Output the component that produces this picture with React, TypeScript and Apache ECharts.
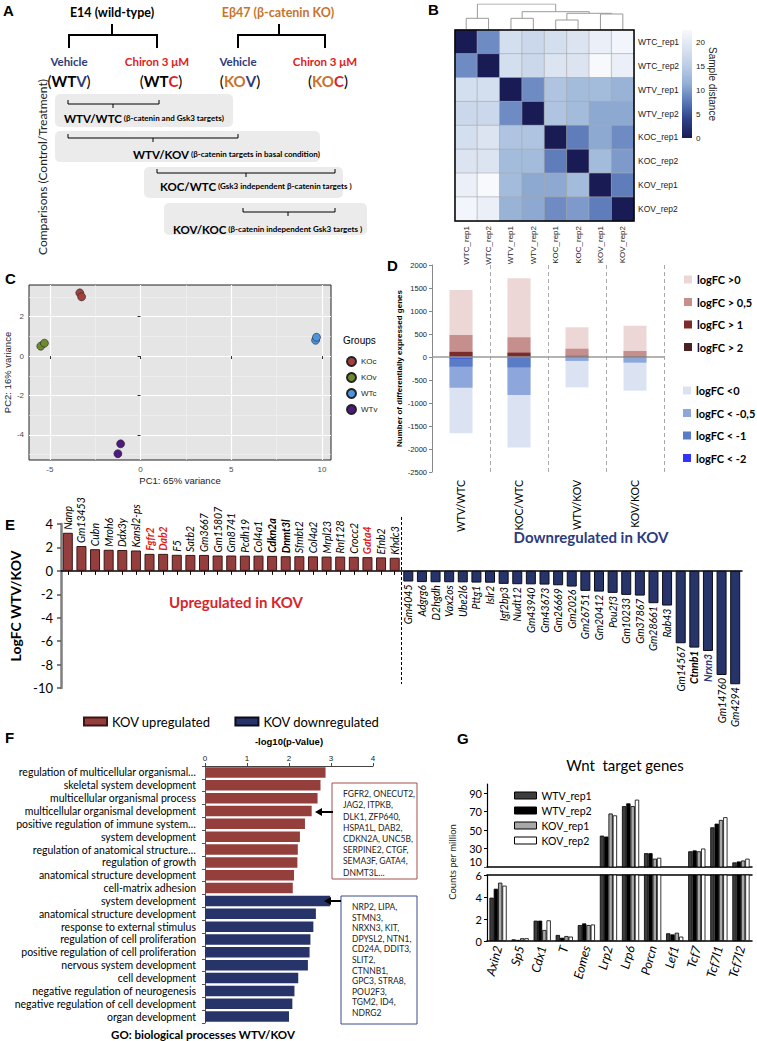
import React, { useEffect, useRef } from 'react';
import * as echarts from 'echarts';

const CAL = 'Lato, "Open Sans", sans-serif';
const ARI = '"Liberation Sans", Arial, sans-serif';

// ---------- Panel B: sample distances ----------
const sampleNames = ['WTC_rep1', 'WTC_rep2', 'WTV_rep1', 'WTV_rep2', 'KOC_rep1', 'KOC_rep2', 'KOV_rep1', 'KOV_rep2'];
const distWTC1 = [0, 9, 18, 17, 18, 19, 21, 22];
const distWTC2 = [9, 0, 18, 17, 19, 19, 23, 21];
const distWTV1 = [18, 18, 0, 9, 14, 13, 13, 12];
const distWTV2 = [17, 17, 9, 0, 14, 13, 11, 11];
const distKOC1 = [18, 19, 14, 14, 0, 8, 11, 9];
const distKOC2 = [19, 19, 13, 13, 8, 0, 13, 10];
const distKOV1 = [21, 23, 13, 11, 11, 13, 0, 8];
const distKOV2 = [22, 21, 12, 11, 9, 10, 8, 0];
const distanceRows = [distWTC1, distWTC2, distWTV1, distWTV2, distKOC1, distKOC2, distKOV1, distKOV2];
// merges: [nodeA, nodeB, height]  (leaves 0..7, merged nodes 8..)
const dendroMerges = [[0, 1, 11.7], [2, 3, 11.7], [4, 5, 10], [6, 7, 16], [10, 11, 16.7], [9, 12, 18.3], [8, 13, 26]];
const distanceTicks = [0, 5, 10, 15, 20];
const distanceMax = 22.7;

// ---------- Panel C: PCA ----------
const pcaGroups = ['KOc', 'KOv', 'WTc', 'WTv'];
const pcaKOc = [[-3.35, 3.2], [-3.25, 3.0]];
const pcaKOv = [[-5.5, 0.5], [-5.3, 0.65]];
const pcaWTc = [[9.65, 0.8], [9.7, 0.95]];
const pcaWTv = [[-1.25, -4.95], [-1.1, -4.45]];
const pcaXTicks = [-5, 0, 5, 10];
const pcaXMinor = [-2.5, 2.5, 7.5];
const pcaYTicks = [-4, -2, 0, 2];
const pcaYMinor = [-5, -3, -1, 1, 3];

// ---------- Panel D: DEG counts ----------
const comparisons = ['WTV/WTC', 'KOC/WTC', 'WTV/KOV', 'KOV/KOC'];
const degUp0 = [1455, 1710, 645, 680];
const degUp05 = [478, 428, 180, 130];
const degUp1 = [112, 95, 25, 15];
const degUp2 = [20, 15, 8, 4];
const degDown0 = [-1655, -1965, -660, -732];
const degDown05 = [-668, -826, -85, -123];
const degDown1 = [-210, -225, -15, -20];
const degDown2 = [-30, -22, -4, -4];
const degLabels = ['logFC >0', 'logFC > 0,5', 'logFC > 1', 'logFC > 2', 'logFC <0', 'logFC < -0,5', 'logFC < -1', 'logFC < -2'];

// ---------- Panel E: logFC WTV/KOV ----------
const upGenes = ['Nanp', 'Gm13453', 'Cubn', 'Mroh6', 'Ddx3y', 'Kansl2-ps', 'Fgfr2', 'Dab2', 'F5', 'Satb2', 'Gm3667', 'Gm15807', 'Gm8741', 'Pcdh19', 'Col4a1', 'Cdkn2a', 'Dnmt3l', 'Sfmbt2', 'Col4a2', 'Mrpl23', 'Rnf128', 'Crocc2', 'Gata4', 'Efnb2', 'Khdc3'];
const upLogFC = [3.25, 2.12, 1.85, 1.8, 1.78, 1.74, 1.45, 1.45, 1.37, 1.36, 1.36, 1.31, 1.31, 1.3, 1.3, 1.28, 1.25, 1.25, 1.24, 1.22, 1.22, 1.2, 1.17, 1.15, 1.12];
const downGenes = ['Gm4045', 'Adgrg6', 'D2hgdh', 'Vax2os', 'Ube2l6', 'Pttg1', 'Islr2', 'Igf2bp3', 'Nudt12', 'Gm43940', 'Gm43673', 'Gm26669', 'Gm2026', 'Gm26751', 'Gm20412', 'Pou2f3', 'Gm10233', 'Gm37867', 'Gm28661', 'Rab43', 'Gm14567', 'Ctnnb1', 'Nrxn3', 'Gm14760', 'Gm4294'];
const downLogFC = [-0.91, -0.96, -0.97, -0.97, -0.98, -1.0, -1.01, -1.11, -1.14, -1.15, -1.17, -1.23, -1.34, -1.71, -1.77, -1.88, -2.05, -2.11, -2.76, -2.96, -6.18, -6.55, -6.84, -8.89, -9.68];
const redGenes = ['Fgfr2', 'Dab2', 'Gata4'];
const boldGenes = ['Cdkn2a', 'Dnmt3l', 'Ctnnb1'];
const navyGenes = ['Nrxn3'];

// ---------- Panel F: GO terms ----------
const goUpTerms = ['regulation of multicellular organismal…', 'skeletal system development', 'multicellular organismal process', 'multicellular organismal development', 'positive regulation of immune system…', 'system development', 'regulation of anatomical structure…', 'regulation of growth', 'anatomical structure development', 'cell-matrix adhesion'];
const goUpP = [2.87, 2.75, 2.68, 2.54, 2.38, 2.26, 2.21, 2.2, 2.12, 2.09];
const goDownTerms = ['system development', 'anatomical structure development', 'response to external stimulus', 'regulation of cell proliferation', 'positive regulation of cell proliferation', 'nervous system development', 'cell development', 'negative regulation of neurogenesis', 'negative regulation of cell development', 'organ development'];
const goDownP = [2.98, 2.64, 2.58, 2.51, 2.49, 2.45, 2.22, 2.13, 2.08, 2.0];
const goUpGenes = ['FGFR2, ONECUT2,', 'JAG2, ITPKB,', 'DLK1, ZFP640,', 'HSPA1L, DAB2,', 'CDKN2A, UNC5B,', 'SERPINE2, CTGF,', 'SEMA3F, GATA4,', 'DNMT3L…'];
const goDownGenes = ['NRP2, LIPA,', 'STMN3,', 'NRXN3, KIT,', 'DPYSL2, NTN1,', 'CD24A, DDIT3,', 'SLIT2,', 'CTNNB1,', 'GPC3, STRA8,', 'POU2F3,', 'TGM2, ID4,', 'NDRG2'];

// ---------- Panel G: Wnt target genes ----------
const wntGenes = ['Axin2', 'Sp5', 'Cdx1', 'T', 'Eomes', 'Lrp2', 'Lrp6', 'Porcn', 'Lef1', 'Tcf7', 'Tcf7l1', 'Tcf7l2'];
const wtvRep1 = [3.94, 0.15, 1.85, 0.55, 1.45, 44, 76, 25, 0.7, 27, 53, 15];
const wtvRep2 = [4.75, 0.1, 1.85, 0.3, 1.6, 43, 79, 25, 0.6, 28, 57, 16];
const kovRep1 = [5.3, 0.25, 1.0, 0.45, 1.45, 68, 76, 19, 0.75, 27, 61, 17];
const kovRep2 = [5.03, 0.25, 1.88, 0.4, 1.5, 66, 83, 20, 0.4, 30, 64, 19];
const wntUpperTicks = [30, 50, 70, 90];
const wntBreakTick = [10];

// ---------- helpers ----------
function txt(text: string, x: number, y: number, o: any = {}) {
  const align = o.align || 'center';
  const va = o.va || 'middle';
  return {
    type: 'text', x, y, rotation: o.rotation || 0, z: 50,
    style: {
      text, fill: o.fill || '#000', fontSize: o.size || 12, fontWeight: o.weight || 'normal',
      fontStyle: o.style || 'normal', fontFamily: o.family || CAL,
      align, verticalAlign: va, textAlign: align, textVerticalAlign: va,
      lineHeight: o.lineHeight, rich: o.rich,
    },
  };
}
function pline(points: number[][], color = '#000', width = 1) {
  return { type: 'polyline', z: 50, shape: { points }, style: { stroke: color, lineWidth: width, fill: 'none' } };
}

function buildOption() {
  const navy = '#2e3a7c';
  const red = '#e0201b';
  const orange = '#c8722d';
  const graphic: any[] = [];

  // panel letters
  [['A', 3, 10], ['B', 428, 9], ['C', 5, 278], ['D', 387, 265], ['E', 5, 524], ['F', 5, 737], ['G', 457, 738]].forEach(([l, x, y]: any) =>
    graphic.push(txt(l, x, y, { align: 'left', size: 15, weight: 'bold', family: ARI })));

  // ---- Panel A diagram ----
  graphic.push(txt('E14 (wild-type)', 112, 12, { size: 12.5, weight: 'bold' }));
  graphic.push(txt('Eβ47 (β-catenin KO)', 278, 12, { size: 12.5, weight: 'bold', fill: orange }));
  graphic.push(pline([[69, 48], [69, 35], [157, 35], [157, 48]], '#000', 2));
  graphic.push(pline([[112, 24], [112, 35]], '#000', 2));
  graphic.push(pline([[238, 48], [238, 35], [325, 35], [325, 48]], '#000', 2));
  graphic.push(pline([[279, 24], [279, 35]], '#000', 2));
  graphic.push(txt('Vehicle', 69, 61, { size: 11.5, weight: 'bold', fill: navy }));
  graphic.push(txt('Chiron 3 μM', 157, 61, { size: 11.5, weight: 'bold', fill: red }));
  graphic.push(txt('Vehicle', 238, 61, { size: 11.5, weight: 'bold', fill: navy }));
  graphic.push(txt('Chiron 3 μM', 325, 61, { size: 11.5, weight: 'bold', fill: red }));
  const richA = {
    p: { fontSize: 15, fontFamily: CAL, fill: '#000', color: '#000' },
    k: { fontSize: 15, fontFamily: CAL, fontWeight: 'bold', fill: '#000', color: '#000' },
    o: { fontSize: 15, fontFamily: CAL, fontWeight: 'bold', fill: orange, color: orange },
    v: { fontSize: 15, fontFamily: CAL, fontWeight: 'bold', fill: navy, color: navy },
    c: { fontSize: 15, fontFamily: CAL, fontWeight: 'bold', fill: red, color: red },
  };
  graphic.push(txt('{p|(}{k|WT}{v|V}{p|)}', 69, 81, { rich: richA }));
  graphic.push(txt('{p|(}{k|WT}{c|C}{p|)}', 161, 81, { rich: richA }));
  graphic.push(txt('{p|(}{o|KO}{v|V}{p|)}', 240, 81, { rich: richA }));
  graphic.push(txt('{p|(}{o|KO}{c|C}{p|)}', 328, 81, { rich: richA }));
  const boxes = [
    { x: 55, y: 94, w: 178, h: 33, b: [68, 159, 104, 113], tx: 64, ty: 118, a: 'WTV/WTC', s: ' (β-catenin and Gsk3 targets)' },
    { x: 55, y: 131, w: 265, h: 31, b: [68, 238, 138, 153], tx: 133, ty: 154, a: 'WTV/KOV', s: ' (β-catenin targets in basal condition)' },
    { x: 144, y: 167, w: 199, h: 31, b: [157, 335, 173, 246], tx: 160, ty: 186, a: 'KOC/WTC', s: ' (Gsk3 independent β-catenin targets )' },
    { x: 164, y: 203, w: 203, h: 32, b: [243, 335, 212, 288], tx: 173, ty: 229, a: 'KOV/KOC', s: ' (β-catenin independent Gsk3 targets )' },
  ];
  const richBox = {
    a: { fontSize: 11.5, fontWeight: 'bold', fontFamily: CAL, fill: '#000', color: '#000' },
    s: { fontSize: 8, fontWeight: 'bold', fontFamily: CAL, fill: '#000', color: '#000' },
  };
  boxes.forEach((bx) => {
    graphic.push({ type: 'rect', z: 40, shape: { x: bx.x, y: bx.y, width: bx.w, height: bx.h, r: 5 }, style: { fill: '#ebebeb' } });
    const [x1, x2, y, cx] = bx.b;
    graphic.push(pline([[x1, y - 4], [x1, y], [x2, y], [x2, y - 4]], '#000', 1));
    graphic.push(pline([[cx, y], [cx, y + 4]], '#000', 1));
    graphic.push(txt(`{a|${bx.a}}{s|${bx.s}}`, bx.tx, bx.ty, { align: 'left', rich: richBox }));
  });
  graphic.push(txt('Comparisons (Control/Treatment)', 42, 167, { size: 12, rotation: Math.PI / 2, fill: '#222' }));

  // ---- Panel B extras ----
  const hmColors = ['#191c54', '#2d3f86', '#5877b8', '#92aed4', '#bccde6', '#dbe3f1', '#f7f9fd'];
  graphic.push({
    type: 'rect', z: 40, shape: { x: 682, y: 30, width: 10, height: 108 },
    style: {
      fill: {
        type: 'linear', x: 0, y: 0, x2: 0, y2: 1,
        colorStops: hmColors.slice().reverse().map((c, i) => ({ offset: i / (hmColors.length - 1), color: c })),
      },
    },
  });
  graphic.push({ type: 'rect', z: 100, shape: { x: 455, y: 30, width: 179, height: 191 }, style: { fill: 'none', stroke: '#000', lineWidth: 1.5 } });
  graphic.push(txt('Sample distance', 712, 84, { size: 10, family: ARI, rotation: -Math.PI / 2, fill: '#222' }));

  // ---- Panel C extras ----
  graphic.push(txt('Groups', 343, 340, { align: 'left', size: 10, family: ARI }));

  // ---- Panel E extras ----
  const eLeft = 61, eWidth = 681;
  const sepX = eLeft + eWidth * (upGenes.length / (upGenes.length + downGenes.length));
  graphic.push({ type: 'line', z: 50, shape: { x1: sepX, y1: 517, x2: sepX, y2: 684 }, style: { stroke: '#000', lineWidth: 1, lineDash: [3, 2] } });
  graphic.push(txt('Upregulated in KOV', 236, 602, { size: 15, weight: 'bold', fill: '#d7252a' }));
  graphic.push(txt('Downregulated in KOV', 591, 537, { size: 15, weight: 'bold', fill: '#2b3c7e' }));

  // ---- Panel F extras ----
  graphic.push({ type: 'rect', z: 40, shape: { x: 332, y: 783, width: 85, height: 96 }, style: { fill: '#fff', stroke: '#a0504d', lineWidth: 1 } });
  graphic.push(txt(goUpGenes.join('\n'), 343, 788.5, { align: 'left', size: 8.5, lineHeight: 11.2, va: 'top', fill: '#222' }));
  graphic.push({ type: 'rect', z: 40, shape: { x: 341, y: 896, width: 76, height: 128 }, style: { fill: '#fff', stroke: '#3b4a8a', lineWidth: 1 } });
  graphic.push(txt(goDownGenes.join('\n'), 352, 901.7, { align: 'left', size: 8.5, lineHeight: 10.6, va: 'top', fill: '#222' }));
  graphic.push(pline([[333, 812], [321, 812]], '#000', 2));
  graphic.push({ type: 'polygon', z: 50, shape: { points: [[315, 812], [322, 808], [322, 816]] }, style: { fill: '#000' } });
  graphic.push(pline([[341, 901], [330, 901]], '#000', 2));
  graphic.push({ type: 'polygon', z: 50, shape: { points: [[324, 901], [331, 897], [331, 905]] }, style: { fill: '#000' } });
  graphic.push(txt('GO: biological processes WTV/KOV', 203, 1034, { size: 11.5, weight: 'bold' }));

  // ---- Panel G extras ----
  graphic.push(txt('Wnt  target genes', 625, 765, { size: 15 }));
  graphic.push(txt('Counts per million', 452, 862, { size: 9.5, rotation: Math.PI / 2, fill: '#222' }));

  // ---------- data prep ----------
  const hmData: any[] = [];
  distanceRows.forEach((row, r) => row.forEach((v, c) => hmData.push([c, r, v])));

  const nodeX: number[] = sampleNames.map((_, i) => i);
  const nodeH: number[] = sampleNames.map(() => 0);
  const dendroData: any[] = [];
  dendroMerges.forEach(([a, b, h]) => {
    dendroData.push({ coords: [[nodeX[a], nodeH[a]], [nodeX[a], h], [nodeX[b], h], [nodeX[b], nodeH[b]]] });
    nodeX.push((nodeX[a] + nodeX[b]) / 2);
    nodeH.push(h);
  });

  const pcaSets = [
    { name: 'KOc', data: pcaKOc, color: '#a3403d' },
    { name: 'KOv', data: pcaKOv, color: '#6e8a2e' },
    { name: 'WTc', data: pcaWTc, color: '#4d94e0' },
    { name: 'WTv', data: pcaWTv, color: '#4d1a7f' },
  ];

  const degSets = [
    { data: degUp0, color: '#ecd6d6' }, { data: degUp05, color: '#c48f8d' }, { data: degUp1, color: '#7b2b2b' }, { data: degUp2, color: '#4a2020' },
    { data: degDown0, color: '#dbe2f1' }, { data: degDown05, color: '#8da7dd' }, { data: degDown1, color: '#5a7bc6' }, { data: degDown2, color: '#3333ff' },
  ];

  const allGenes = [...upGenes, ...downGenes];
  const geneLabel = (g: string) => {
    if (redGenes.includes(g)) return { color: red, fontWeight: 'bold' };
    if (navyGenes.includes(g)) return { color: navy, fontWeight: 'bold' };
    if (boldGenes.includes(g)) return { fontWeight: 'bold' };
    return {};
  };
  const eUp = allGenes.map((g, i) => (i < upGenes.length ? { value: upLogFC[i], label: geneLabel(g) } : '-'));
  const eDown = allGenes.map((g, i) => (i >= upGenes.length ? { value: downLogFC[i - upGenes.length], label: geneLabel(g) } : '-'));

  const goTerms = [...goUpTerms, ...goDownTerms];
  const goIdx = goTerms.map((_, i) => String(i));
  const fUp = goTerms.map((_, i) => (i < goUpTerms.length ? goUpP[i] : '-'));
  const fDown = goTerms.map((_, i) => (i >= goUpTerms.length ? goDownP[i - goUpTerms.length] : '-'));

  const wntSets = [
    { name: 'WTV_rep1', data: wtvRep1, color: '#3d3d3d' },
    { name: 'WTV_rep2', data: wtvRep2, color: '#000000' },
    { name: 'KOV_rep1', data: kovRep1, color: '#a8a8a8' },
    { name: 'KOV_rep2', data: kovRep2, color: '#ffffff' },
  ];

  const hiddenAxis = { show: false };

  const option: any = {
    animation: false,
    backgroundColor: '#fff',
    textStyle: { fontFamily: CAL },
    graphic: { elements: graphic },
    visualMap: [{
      show: false, type: 'continuous', min: 0, max: distanceMax, seriesIndex: 0, inRange: { color: hmColors },
    }],
    legend: [
      { // C
        data: pcaGroups, left: 341, top: 351, orient: 'vertical', icon: 'circle', itemWidth: 9, itemHeight: 9, itemGap: 5,
        textStyle: { fontSize: 8, fontFamily: ARI, color: '#222' },
      },
      { // D positive
        data: degLabels.slice(0, 4), left: 679, top: 269, orient: 'vertical', icon: 'rect', itemWidth: 8, itemHeight: 8, itemGap: 11.5,
        textStyle: { fontSize: 11, fontWeight: 'bold', fontFamily: CAL, color: '#000' },
      },
      { // D negative
        data: degLabels.slice(4), left: 678, top: 380, orient: 'vertical', icon: 'rect', itemWidth: 8, itemHeight: 8, itemGap: 11.5,
        textStyle: { fontSize: 11, fontWeight: 'bold', fontFamily: CAL, color: '#000' },
      },
      { // E
        data: ['KOV upregulated', 'KOV downregulated'], left: 78, top: 710, orient: 'horizontal', icon: 'rect', itemWidth: 23, itemHeight: 8, itemGap: 24,
        textStyle: { fontSize: 13, fontFamily: CAL, color: '#000' },
      },
      { // G
        data: wntSets.map((s) => s.name), left: 509, top: 785, orient: 'vertical', icon: 'rect', itemWidth: 22, itemHeight: 7, itemGap: 4,
        textStyle: { fontSize: 10.5, fontFamily: CAL, color: '#000' }, itemStyle: { borderColor: '#000', borderWidth: 1 },
      },
    ],
    grid: [
      { left: 455, top: 30, width: 179, height: 191 }, // 0 heatmap
      { left: 455, top: 4, width: 179, height: 26 }, // 1 dendrogram
      { left: 29, top: 285, width: 302, height: 175, show: true, backgroundColor: '#e5e5e5', borderColor: '#222', borderWidth: 1 }, // 2 PCA
      { left: 432, top: 265, width: 232, height: 207 }, // 3 D
      { left: eLeft, top: 524, width: eWidth, height: 164 }, // 4 E
      { left: 205, top: 766, width: 168, height: 257 }, // 5 F
      { left: 487, top: 784, width: 265, height: 83 }, // 6 G upper
      { left: 487, top: 875, width: 265, height: 66 }, // 7 G lower
      { left: 682, top: 30, width: 10, height: 108 }, // 8 colorbar
    ],
    xAxis: [
      { // 0
        gridIndex: 0, type: 'category', data: sampleNames, position: 'bottom',
        axisLine: { show: false }, axisTick: { show: false },
        axisLabel: { rotate: 90, fontSize: 8, fontFamily: ARI, color: '#222', margin: 5, interval: 0 },
      },
      { gridIndex: 1, type: 'value', min: -0.5, max: 7.5, ...hiddenAxis }, // 1
      { // 2 PCA main
        gridIndex: 2, type: 'value', min: -6.15, max: 10.5,
        axisLine: { show: false },
        axisTick: { show: true, customValues: pcaXTicks, length: 3, lineStyle: { color: '#333' } },
        axisLabel: { customValues: pcaXTicks, fontSize: 8, fontFamily: ARI, color: '#4d4d4d', margin: 5 },
        splitLine: { show: true, lineStyle: { color: '#ffffff', width: 1.2 } },
        name: 'PC1: 65% variance', nameLocation: 'middle', nameGap: 15, nameTextStyle: { fontSize: 9.5, fontFamily: ARI, color: '#222' },
      },
      { // 3 PCA minor
        gridIndex: 2, type: 'value', min: -6.15, max: 10.5,
        axisLine: { show: false }, axisLabel: { show: false, customValues: pcaXMinor },
        axisTick: { show: false, customValues: pcaXMinor },
        splitLine: { show: true, lineStyle: { color: '#f2f2f2', width: 0.6 } },
      },
      { // 4 D
        gridIndex: 3, type: 'category', data: comparisons, position: 'bottom',
        axisLine: { show: false }, axisTick: { show: false },
        axisLabel: { rotate: 90, fontSize: 10.5, fontFamily: CAL, color: '#000', margin: 8, interval: 0 },
        splitLine: { show: true, interval: 0, lineStyle: { color: '#aaa', type: [4, 3], width: 1 } },
      },
      { // 5 E
        gridIndex: 4, type: 'category', data: allGenes,
        axisLine: { onZero: true, lineStyle: { color: '#000', width: 1.5 } },
        axisTick: { show: true, alignWithLabel: true, length: 4, interval: 0, lineStyle: { color: '#000' } },
        axisLabel: { show: false },
      },
      { // 6 F
        gridIndex: 5, type: 'value', position: 'top', min: 0, max: 4, interval: 1,
        axisLine: { show: true, lineStyle: { color: '#444' } },
        axisTick: { show: true, length: 3, inside: false },
        axisLabel: { fontSize: 8, fontFamily: ARI, color: '#222', margin: 4 },
        splitLine: { show: false },
        name: '-log10(p-Value)', nameLocation: 'middle', nameGap: 20, nameTextStyle: { fontSize: 9.5, fontWeight: 'bold', fontFamily: ARI, color: '#000' },
      },
      { // 7 G upper
        gridIndex: 6, type: 'category', data: wntGenes,
        axisLine: { show: true, onZero: false, lineStyle: { color: '#000', width: 1.5 } },
        axisTick: { show: false }, axisLabel: { show: false },
      },
      { // 8 G lower bottom
        gridIndex: 7, type: 'category', data: wntGenes, position: 'bottom',
        axisLine: { show: true, onZero: false, lineStyle: { color: '#000', width: 1.5 } },
        axisTick: { show: false },
        axisLabel: { rotate: 75, fontSize: 12.5, fontStyle: 'italic', fontFamily: CAL, color: '#000', margin: 5, interval: 0 },
      },
      { // 9 G lower top line
        gridIndex: 7, type: 'category', data: wntGenes, position: 'top',
        axisLine: { show: true, onZero: false, lineStyle: { color: '#000', width: 1.5 } },
        axisTick: { show: false }, axisLabel: { show: false },
      },
      { gridIndex: 8, type: 'value', min: 0, max: 1, ...hiddenAxis }, // 10 colorbar
    ],
    yAxis: [
      { // 0
        gridIndex: 0, type: 'category', data: sampleNames, inverse: true, position: 'right',
        axisLine: { show: false }, axisTick: { show: false },
        axisLabel: { fontSize: 8.5, fontFamily: ARI, color: '#222', margin: 4 },
      },
      { gridIndex: 1, type: 'value', min: 0, max: 26, ...hiddenAxis }, // 1
      { // 2 PCA main
        gridIndex: 2, type: 'value', min: -5.27, max: 3.6,
        axisLine: { show: false },
        axisTick: { show: true, customValues: pcaYTicks, length: 3, lineStyle: { color: '#333' } },
        axisLabel: { customValues: pcaYTicks, fontSize: 8, fontFamily: ARI, color: '#4d4d4d', margin: 5 },
        splitLine: { show: true, lineStyle: { color: '#ffffff', width: 1.2 } },
        name: 'PC2: 16% variance', nameLocation: 'middle', nameGap: 17, nameTextStyle: { fontSize: 9.5, fontFamily: ARI, color: '#222' },
      },
      { // 3 PCA minor
        gridIndex: 2, type: 'value', min: -5.27, max: 3.6,
        axisLine: { show: false }, axisLabel: { show: false, customValues: pcaYMinor },
        axisTick: { show: false, customValues: pcaYMinor },
        splitLine: { show: true, lineStyle: { color: '#f2f2f2', width: 0.6 } },
      },
      { // 4 D
        gridIndex: 3, type: 'value', min: -2500, max: 2000, interval: 500,
        axisLine: { show: true, lineStyle: { color: '#888' } },
        axisTick: { show: true, length: 3, lineStyle: { color: '#888' } },
        axisLabel: { fontSize: 7.5, fontFamily: ARI, color: '#222', margin: 5, formatter: (v: number) => String(v) },
        splitLine: { show: false },
        name: 'Number of differentially expressed genes', nameLocation: 'middle', nameGap: 29,
        nameTextStyle: { fontSize: 8, fontWeight: 'bold', fontFamily: ARI, color: '#000' },
      },
      { // 5 E
        gridIndex: 4, type: 'value', min: -10, max: 4, interval: 2,
        axisLine: { show: true, lineStyle: { color: '#7f7f7f', width: 2.5 } },
        axisTick: { show: true, length: 4, lineStyle: { color: '#555', width: 1.5 } },
        axisLabel: { fontSize: 13, fontFamily: CAL, color: '#000', margin: 8 },
        splitLine: { show: false },
        name: 'LogFC WTV/KOV', nameLocation: 'middle', nameGap: 32,
        nameTextStyle: { fontSize: 14, fontWeight: 'bold', fontFamily: CAL, color: '#000' },
      },
      { // 6 F
        gridIndex: 5, type: 'category', data: goIdx, inverse: true,
        axisLine: { show: true, lineStyle: { color: '#555' } },
        axisTick: { show: true, length: 3, interval: 0 },
        axisLabel: { interval: 0, fontSize: 10.5, fontFamily: CAL, color: '#000', margin: 9, formatter: (v: string) => goTerms[Number(v)] },
      },
      { // 7 G upper
        gridIndex: 6, type: 'value', min: 10, max: 100, position: 'left',
        axisLine: { show: true, lineStyle: { color: '#000', width: 1.2 } },
        axisTick: { show: true, customValues: wntUpperTicks, length: 3 },
        axisLabel: { customValues: wntUpperTicks, fontSize: 11, lineHeight: 11, fontFamily: CAL, color: '#000', margin: 5 },
        splitLine: { show: false },
      },
      { // 8 G lower
        gridIndex: 7, type: 'value', min: 0, max: 6, interval: 2, position: 'left',
        axisLine: { show: true, lineStyle: { color: '#000', width: 1.2 } },
        axisTick: { show: true, length: 3 },
        axisLabel: { fontSize: 11, lineHeight: 11, fontFamily: CAL, color: '#000', margin: 5 },
        splitLine: { show: false },
      },
      { // 9 colorbar
        gridIndex: 8, type: 'value', min: 0, max: distanceMax, position: 'right',
        axisLine: { show: false }, axisTick: { show: false, customValues: distanceTicks },
        axisLabel: { customValues: distanceTicks, fontSize: 8, fontFamily: ARI, color: '#222', margin: 4 },
        splitLine: { show: false },
      },
      { // 10 G upper: break value label (10), lifted above the break
        gridIndex: 6, type: 'value', min: 10, max: 100, position: 'left', offset: 0,
        axisLine: { show: false },
        axisTick: { show: true, customValues: wntBreakTick, length: 3 },
        axisLabel: { customValues: wntBreakTick, fontSize: 11, lineHeight: 11, fontFamily: CAL, color: '#000', margin: 5, verticalAlign: 'bottom' },
        splitLine: { show: false },
      },
    ],
    series: [
      {
        type: 'heatmap', xAxisIndex: 0, yAxisIndex: 0, data: hmData,
        itemStyle: { borderColor: '#a8a8a8', borderWidth: 0.6 }, label: { show: false },
      },
      {
        type: 'lines', coordinateSystem: 'cartesian2d', xAxisIndex: 1, yAxisIndex: 1, polyline: true, silent: true,
        data: dendroData, lineStyle: { color: '#9a9a9a', width: 1, opacity: 1 },
      },
      ...pcaSets.map((s) => ({
        type: 'scatter', name: s.name, xAxisIndex: 2, yAxisIndex: 2, data: s.data, symbolSize: 8,
        itemStyle: { color: s.color, borderColor: '#222', borderWidth: 0.6, opacity: 1 },
      })),
      ...degSets.map((s, i) => ({
        type: 'bar', name: degLabels[i], xAxisIndex: 4, yAxisIndex: 4, data: s.data, barWidth: 23, barGap: '-100%',
        itemStyle: { color: s.color },
        ...(i === 0 ? {
          markLine: {
            silent: true, symbol: 'none', data: [{ yAxis: 0 }], label: { show: false },
            lineStyle: { color: '#9a9a9a', width: 1.5, type: 'solid' },
          },
        } : {}),
      })),
      {
        type: 'bar', name: 'KOV upregulated', xAxisIndex: 5, yAxisIndex: 5, data: eUp, barWidth: 10, barGap: '-100%',
        itemStyle: { color: '#943f3d', borderColor: '#3a1616', borderWidth: 1 },
        label: {
          show: true, position: 'top', rotate: 90, align: 'left', verticalAlign: 'middle', distance: 3,
          formatter: '{b}', fontSize: 10.5, fontStyle: 'italic', fontFamily: CAL, color: '#000',
        },
      },
      {
        type: 'bar', name: 'KOV downregulated', xAxisIndex: 5, yAxisIndex: 5, data: eDown, barWidth: 10, barGap: '-100%',
        itemStyle: { color: '#273469', borderColor: '#0d0d1a', borderWidth: 1 },
        label: {
          show: true, position: 'bottom', rotate: 90, align: 'right', verticalAlign: 'middle', distance: 3,
          formatter: '{b}', fontSize: 10.5, fontStyle: 'italic', fontFamily: CAL, color: '#000',
        },
      },
      {
        type: 'bar', name: 'GO up', xAxisIndex: 6, yAxisIndex: 6, data: fUp, barWidth: 10.5, barGap: '-100%',
        itemStyle: { color: '#953f3d' },
      },
      {
        type: 'bar', name: 'GO down', xAxisIndex: 6, yAxisIndex: 6, data: fDown, barWidth: 10.5, barGap: '-100%',
        itemStyle: { color: '#27346a' },
      },
      ...wntSets.map((s) => ({
        type: 'bar', name: s.name, xAxisIndex: 7, yAxisIndex: 7, clip: true,
        data: s.data.map((v) => (v > 10 ? v : '-')), barGap: '0%', barCategoryGap: '22%',
        itemStyle: { color: s.color, borderColor: '#000', borderWidth: 0.8 },
      })),
      ...wntSets.map((s) => ({
        type: 'bar', name: s.name, xAxisIndex: 8, yAxisIndex: 8, clip: true,
        data: s.data, barGap: '0%', barCategoryGap: '22%',
        itemStyle: { color: s.color, borderColor: '#000', borderWidth: 0.8 },
      })),
    ],
  };
  return option;
}

export default function App() {
  const ref = useRef<HTMLDivElement>(null);
  useEffect(() => {
    const chart = echarts.init(ref.current as HTMLDivElement, null, { renderer: 'svg' });
    chart.setOption(buildOption());
    return () => chart.dispose();
  }, []);
  return (
    <div
      ref={ref}
      style={{ position: 'absolute', left: 0, top: 0, width: 757, height: 1041, background: '#fff' }}
    />
  );
}
